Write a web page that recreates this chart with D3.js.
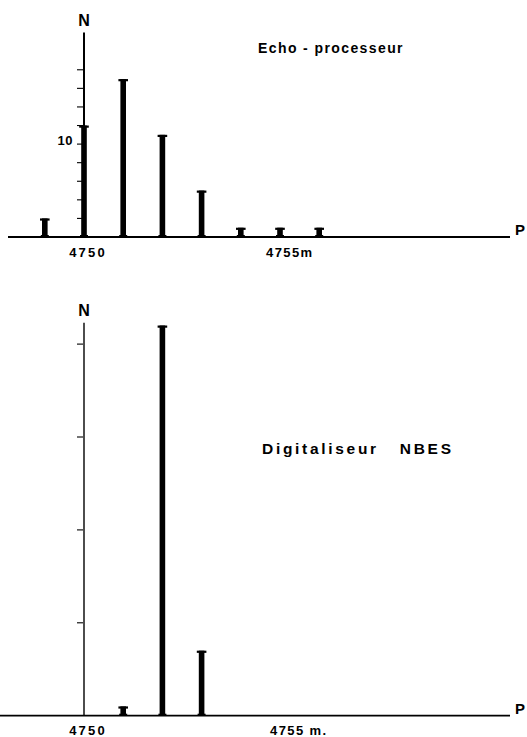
<!DOCTYPE html>
<html>
<head>
<meta charset="utf-8">
<script src="https://cdn.jsdelivr.net/npm/d3@7/dist/d3.min.js"></script>
<style>
  html, body { margin: 0; padding: 0; background: #fff; }
  svg { display: block; }
  text { font-family: "Liberation Sans", Arial, sans-serif; fill: #000; }
</style>
</head>
<body>
<script>
// Depth histograms (N soundings per metre of depth P)
const depthsEcho = [4749, 4750, 4751, 4752, 4753, 4754, 4755, 4756];
const countsEcho = [2, 12, 17, 11, 5, 1, 1, 1];
const depthsDigit = [4751, 4752, 4753];
const countsDigit = [1, 42, 7];
const ticksEcho = [2, 4, 6, 8, 10, 12, 14, 16, 18];
const tickLabelsEcho = ["10"];
const ticksDigit = [10, 20, 30, 40];
const xLabelsEcho = ["4750", "4755m"];
const xLabelsDigit = ["4750", "4755 m."];
const titles = ["Echo - processeur", "Digitaliseur   NBES"];

const W = 527, H = 737;
const svg = d3.select("body").append("svg").attr("width", W).attr("height", H);

const x = d3.scaleLinear().domain([4750, 4760]).range([84, 476]);
const pxPerUnit = 9.29;

function panel(cfg) {
  const y = d3.scaleLinear()
    .domain([0, cfg.yMax])
    .range([cfg.base, cfg.base - cfg.yMax * pxPerUnit]);
  const g = svg.append("g");

  // baseline (P axis)
  g.append("line")
    .attr("x1", cfg.lineStart).attr("x2", 510)
    .attr("y1", cfg.base).attr("y2", cfg.base)
    .attr("stroke", "#000").attr("stroke-width", 1.8);
  g.append("text").attr("x", 515).attr("y", cfg.base - 2)
    .attr("font-size", 15).attr("font-weight", "bold").text("P");

  // N axis
  const x0 = x(4750);
  g.append("line")
    .attr("x1", x0).attr("x2", x0)
    .attr("y1", cfg.base).attr("y2", y(cfg.yMax))
    .attr("stroke", "#000").attr("stroke-width", cfg.axisW);
  g.append("text").attr("x", x0).attr("y", y(cfg.yMax) - 7)
    .attr("text-anchor", "middle")
    .attr("font-size", 16).attr("font-weight", "bold").text("N");

  g.selectAll("line.tick").data(cfg.ticks).join("line")
    .attr("class", "tick")
    .attr("x1", x0 - 7).attr("x2", x0 - 1)
    .attr("y1", d => y(d)).attr("y2", d => y(d))
    .attr("stroke", "#000").attr("stroke-width", 1.1);

  if (cfg.tickLabel) {
    g.append("text").attr("x", x0 - 11).attr("y", y(+cfg.tickLabel) + 1)
      .attr("text-anchor", "end").attr("font-size", 13)
      .attr("font-weight", "bold").attr("letter-spacing", 0.5)
      .text(cfg.tickLabel);
  }

  // bars drawn as I-beams
  const bars = g.selectAll("g.bar").data(cfg.depths.map((d, i) => [d, cfg.counts[i]]))
    .join("g").attr("class", "bar");
  bars.append("rect")
    .attr("x", d => x(d[0]) - 2.8).attr("width", 5.6)
    .attr("y", d => y(d[1])).attr("height", d => cfg.base - y(d[1]));
  bars.append("rect")
    .attr("x", d => x(d[0]) - 4.8).attr("width", 9.6)
    .attr("y", d => y(d[1])).attr("height", 2.2);
  bars.append("rect")
    .attr("x", d => x(d[0]) - 4).attr("width", 8)
    .attr("y", cfg.base - 2).attr("height", 2);

  // depth labels
  g.append("text").attr("x", x(4750) + 4).attr("y", cfg.base + cfg.labelDy)
    .attr("text-anchor", "middle").attr("font-size", 13).attr("font-weight", "bold")
    .attr("letter-spacing", 2.2).text(cfg.xLabels[0]);
  g.append("text").attr("x", x(4755) - cfg.lab2Shift).attr("y", cfg.base + cfg.labelDy)
    .attr("font-size", 13).attr("font-weight", "bold")
    .attr("letter-spacing", 1.4).style("white-space", "pre").text(cfg.xLabels[1]);

  g.append("text").attr("x", cfg.titleX).attr("y", cfg.titleY)
    .attr("font-size", cfg.titleSize).attr("font-weight", "bold")
    .attr("letter-spacing", cfg.titleLs)
    .style("white-space", "pre").text(cfg.title);
}

panel({
  base: 237, yMax: 22, lineStart: 8, axisW: 2,
  depths: depthsEcho, counts: countsEcho, ticks: ticksEcho,
  tickLabel: tickLabelsEcho[0], xLabels: xLabelsEcho,
  labelDy: 20, lab2Shift: 14,
  title: titles[0], titleX: 258, titleY: 53, titleSize: 14, titleLs: 1.4
});

panel({
  base: 715.7, yMax: 42.3, lineStart: 0, axisW: 1.4,
  depths: depthsDigit, counts: countsDigit, ticks: ticksDigit,
  tickLabel: null, xLabels: xLabelsDigit,
  labelDy: 19, lab2Shift: 10,
  title: titles[1], titleX: 262, titleY: 454, titleSize: 15.5, titleLs: 2.7
});
</script>
</body>
</html>
